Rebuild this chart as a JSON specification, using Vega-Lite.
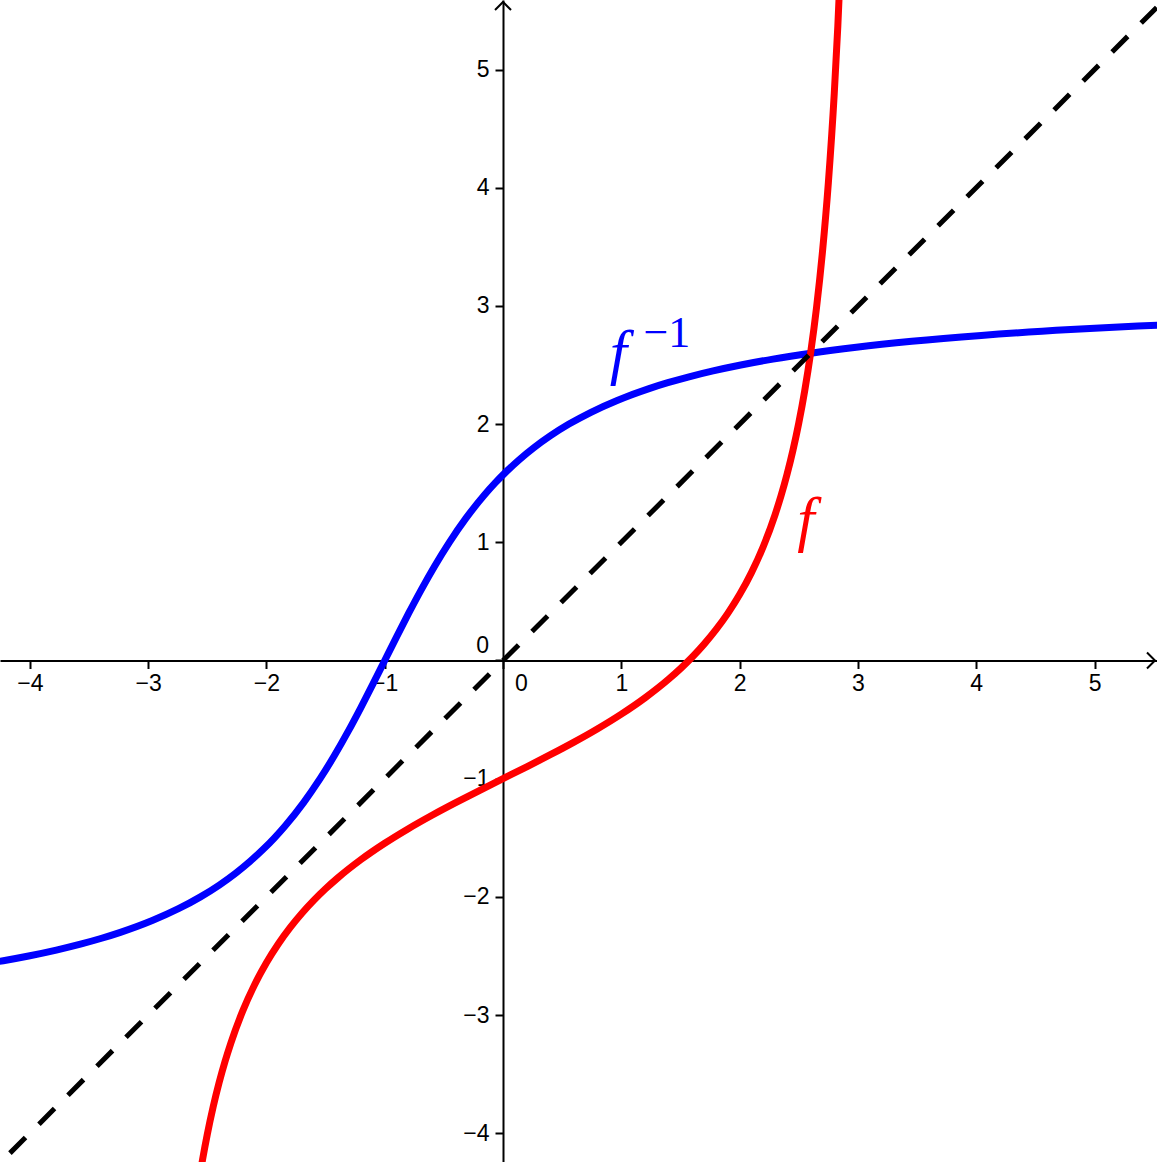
{
  "$schema": "https://vega.github.io/schema/vega-lite/v6.json",
  "width": 1157,
  "height": 1162,
  "padding": 0,
  "autosize": {"type": "none"},
  "background": "white",
  "config": {"view": {"stroke": null}},
  "datasets": {
    "red": [
      {"x": -2.56, "y": -4.341}, {"x": -2.54, "y": -4.224}, {"x": -2.5, "y": -4.010}, {"x": -2.45, "y": -3.776},
      {"x": -2.4, "y": -3.572}, {"x": -2.35, "y": -3.393}, {"x": -2.3, "y": -3.2345}, {"x": -2.2, "y": -2.9648},
      {"x": -2.1, "y": -2.7433}, {"x": -2.0, "y": -2.5574}, {"x": -1.9, "y": -2.3984}, {"x": -1.8, "y": -2.2602},
      {"x": -1.7, "y": -2.1383}, {"x": -1.6, "y": -2.0296}, {"x": -1.5, "y": -1.9316}, {"x": -1.4, "y": -1.8423},
      {"x": -1.2, "y": -1.6841}, {"x": -1.0, "y": -1.5463}, {"x": -0.8, "y": -1.4228}, {"x": -0.6, "y": -1.3093},
      {"x": -0.4, "y": -1.2027}, {"x": -0.2, "y": -1.1003}, {"x": 0, "y": -1}, {"x": 0.2, "y": -0.8997},
      {"x": 0.4, "y": -0.7973}, {"x": 0.6, "y": -0.6907}, {"x": 0.8, "y": -0.5772}, {"x": 1.0, "y": -0.4537},
      {"x": 1.2, "y": -0.3159}, {"x": 1.4, "y": -0.1577}, {"x": 1.5, "y": -0.0684}, {"x": 1.6, "y": 0.0296},
      {"x": 1.7, "y": 0.1383}, {"x": 1.8, "y": 0.2602}, {"x": 1.9, "y": 0.3984}, {"x": 2.0, "y": 0.5574},
      {"x": 2.1, "y": 0.7433}, {"x": 2.2, "y": 0.9648}, {"x": 2.3, "y": 1.2345}, {"x": 2.35, "y": 1.3932},
      {"x": 2.4, "y": 1.5722}, {"x": 2.45, "y": 1.7756}, {"x": 2.5, "y": 2.0096}, {"x": 2.55, "y": 2.2815},
      {"x": 2.6, "y": 2.6021}, {"x": 2.65, "y": 2.9861}, {"x": 2.7, "y": 3.4552}, {"x": 2.75, "y": 4.0418},
      {"x": 2.8, "y": 4.7977}, {"x": 2.83, "y": 5.3664}, {"x": 2.86, "y": 6.0552}
    ],
    "blue": [
      {"y": -2.56, "x": -4.341}, {"y": -2.54, "x": -4.224}, {"y": -2.5, "x": -4.010}, {"y": -2.45, "x": -3.776},
      {"y": -2.4, "x": -3.572}, {"y": -2.35, "x": -3.393}, {"y": -2.3, "x": -3.2345}, {"y": -2.2, "x": -2.9648},
      {"y": -2.1, "x": -2.7433}, {"y": -2.0, "x": -2.5574}, {"y": -1.9, "x": -2.3984}, {"y": -1.8, "x": -2.2602},
      {"y": -1.7, "x": -2.1383}, {"y": -1.6, "x": -2.0296}, {"y": -1.5, "x": -1.9316}, {"y": -1.4, "x": -1.8423},
      {"y": -1.2, "x": -1.6841}, {"y": -1.0, "x": -1.5463}, {"y": -0.8, "x": -1.4228}, {"y": -0.6, "x": -1.3093},
      {"y": -0.4, "x": -1.2027}, {"y": -0.2, "x": -1.1003}, {"y": 0, "x": -1}, {"y": 0.2, "x": -0.8997},
      {"y": 0.4, "x": -0.7973}, {"y": 0.6, "x": -0.6907}, {"y": 0.8, "x": -0.5772}, {"y": 1.0, "x": -0.4537},
      {"y": 1.2, "x": -0.3159}, {"y": 1.4, "x": -0.1577}, {"y": 1.5, "x": -0.0684}, {"y": 1.6, "x": 0.0296},
      {"y": 1.7, "x": 0.1383}, {"y": 1.8, "x": 0.2602}, {"y": 1.9, "x": 0.3984}, {"y": 2.0, "x": 0.5574},
      {"y": 2.1, "x": 0.7433}, {"y": 2.2, "x": 0.9648}, {"y": 2.3, "x": 1.2345}, {"y": 2.35, "x": 1.3932},
      {"y": 2.4, "x": 1.5722}, {"y": 2.45, "x": 1.7756}, {"y": 2.5, "x": 2.0096}, {"y": 2.55, "x": 2.2815},
      {"y": 2.6, "x": 2.6021}, {"y": 2.65, "x": 2.9861}, {"y": 2.7, "x": 3.4552}, {"y": 2.75, "x": 4.0418},
      {"y": 2.8, "x": 4.7977}, {"y": 2.83, "x": 5.3664}, {"y": 2.86, "x": 6.0552}
    ]
  },
  "encoding": {
    "x": {
      "field": "x", "type": "quantitative",
      "scale": {"domain": [-4.252, 5.528], "nice": false, "zero": false},
      "axis": {
        "title": null, "orient": "bottom", "offset": -501.5,
        "values": [-4, -3, -2, -1, 0, 1, 2, 3, 4, 5],
        "labelExpr": "datum.value == 0 ? '' : datum.label",
        "grid": false, "domainColor": "#000", "domainWidth": 2,
        "tickColor": "#000", "tickWidth": 2, "tickSize": 8,
        "labelColor": "#000", "labelFont": "Liberation Sans", "labelFontSize": 23,
        "labelPadding": 4, "labelFlush": false, "labelOverlap": false, "zindex": 0
      }
    },
    "y": {
      "field": "y", "type": "quantitative",
      "scale": {"domain": [-4.243, 5.588], "nice": false, "zero": false},
      "axis": {
        "title": null, "orient": "left", "offset": -503,
        "values": [-4, -3, -2, -1, 0, 1, 2, 3, 4, 5],
        "labelExpr": "datum.value == 0 ? '' : datum.label",
        "grid": false, "domainColor": "#000", "domainWidth": 2,
        "tickColor": "#000", "tickWidth": 2, "tickSize": 8,
        "labelColor": "#000", "labelFont": "Liberation Sans", "labelFontSize": 23,
        "labelPadding": 6, "labelFlush": false, "labelOverlap": false, "zindex": 0
      }
    }
  },
  "layer": [
    {
      "data": {"name": "blue"},
      "mark": {"type": "line", "color": "#0000FF", "strokeWidth": 7, "interpolate": "monotone", "clip": true},
      "encoding": {}
    },
    {
      "data": {"name": "red"},
      "mark": {"type": "line", "color": "#FF0000", "strokeWidth": 7, "interpolate": "monotone", "clip": true},
      "encoding": {}
    },
    {
      "data": {"values": [{"x": 0, "y": 0, "k": 0}, {"x": 5.6, "y": 5.6, "k": 1}]},
      "mark": {"type": "line", "color": "#000", "strokeWidth": 5, "strokeDash": [22, 19], "clip": true},
      "encoding": {"order": {"field": "k", "type": "quantitative"}}
    },
    {
      "data": {"values": [{"x": 0, "y": 0, "k": 0}, {"x": -4.4, "y": -4.4, "k": 1}]},
      "mark": {"type": "line", "color": "#000", "strokeWidth": 5, "strokeDash": [22, 19], "strokeDashOffset": 22, "clip": true},
      "encoding": {"order": {"field": "k", "type": "quantitative"}}
    },
    {
      "data": {"values": [{"x": 0, "y": 5.571}]},
      "mark": {"type": "point", "shape": "M-1,1L0,0L1,1", "size": 256, "filled": false, "stroke": "#000", "strokeWidth": 2, "opacity": 1}
    },
    {
      "data": {"values": [{"x": 5.511, "y": 0}]},
      "mark": {"type": "point", "shape": "M-1,-1L0,0L-1,1", "size": 256, "filled": false, "stroke": "#000", "strokeWidth": 2, "opacity": 1}
    },
    {
      "data": {"values": [{"x": 0.156, "y": -0.258, "label": "0"}]},
      "mark": {"type": "text", "align": "center", "baseline": "alphabetic", "font": "Liberation Sans", "fontSize": 23, "color": "#000"},
      "encoding": {"text": {"field": "label"}}
    },
    {
      "data": {"values": [{"x": -0.118, "y": 0.063, "label": "0"}]},
      "mark": {"type": "text", "align": "right", "baseline": "alphabetic", "font": "Liberation Sans", "fontSize": 23, "color": "#000"},
      "encoding": {"text": {"field": "label"}}
    },
    {
      "data": {"values": [{"x": 0.975, "y": 2.436, "label": "f"}]},
      "mark": {"type": "text", "align": "center", "baseline": "alphabetic", "font": "Liberation Serif", "fontStyle": "italic", "fontSize": 62, "color": "#0000FF"},
      "encoding": {"text": {"field": "label"}}
    },
    {
      "data": {"values": [{"x": 1.385, "y": 2.652, "label": "−1"}]},
      "mark": {"type": "text", "align": "center", "baseline": "alphabetic", "font": "Liberation Serif", "fontSize": 44, "color": "#0000FF"},
      "encoding": {"text": {"field": "label"}}
    },
    {
      "data": {"values": [{"x": 2.56, "y": 1.023, "label": "f"}]},
      "mark": {"type": "text", "align": "center", "baseline": "alphabetic", "font": "Liberation Serif", "fontStyle": "italic", "fontSize": 62, "color": "#FF0000"},
      "encoding": {"text": {"field": "label"}}
    }
  ]
}
